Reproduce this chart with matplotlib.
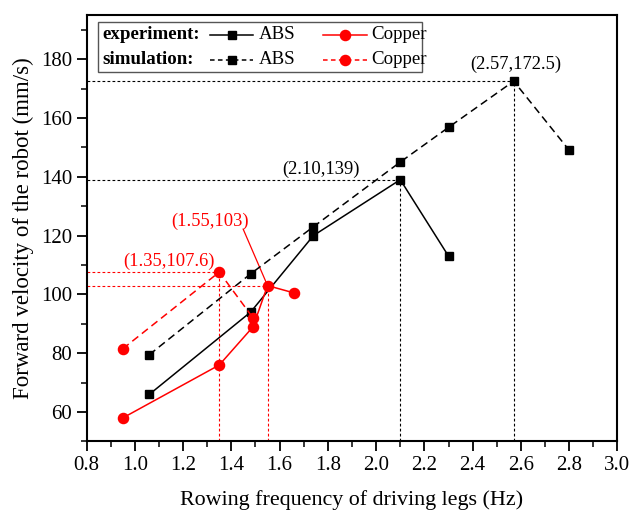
import matplotlib.pyplot as plt
from matplotlib.ticker import MultipleLocator
from matplotlib.lines import Line2D
from matplotlib.patches import Rectangle

plt.rcParams["font.family"] = ["Liberation Serif", "DejaVu Serif"]

# experiment / simulation, ABS legs
abs_exp_x = [1.06, 1.48, 1.74, 2.10, 2.30]
abs_exp_y = [66, 94, 120, 139, 113]
abs_sim_x = [1.06, 1.48, 1.74, 2.10, 2.30, 2.57, 2.80]
abs_sim_y = [79.5, 107, 123, 145, 156.8, 172.5, 149]

# experiment / simulation, copper legs
cu_exp_x = [0.95, 1.35, 1.49, 1.55, 1.66]
cu_exp_y = [58, 76, 89, 103, 100.5]
cu_sim_x = [0.95, 1.35, 1.49]
cu_sim_y = [81.5, 107.6, 92]

# highlighted maxima: (x, y, colour)
peaks = [(2.57, 172.5, "black"), (2.10, 139, "black"),
         (1.35, 107.6, "red"), (1.55, 103, "red")]

fig = plt.figure(figsize=(6.33, 5.13), dpi=100)
ax = fig.add_axes([0.1367, 0.1394, 0.8388, 0.8314])

xmin, xmax, ymin, ymax = 0.8, 3.0, 50, 195

# dotted guide lines to the axes
for px, py, c in peaks:
    ax.plot([xmin, px], [py, py], ls=(0, (2.5, 2)), lw=0.8, color=c, zorder=1)
    ax.plot([px, px], [ymin, py], ls=(0, (2.5, 2)), lw=0.8, color=c, zorder=1)

sq, dot = 6.2, 7.3
ax.plot(abs_exp_x, abs_exp_y, "-s", color="black", lw=1.1, ms=sq, zorder=3)
ax.plot(abs_sim_x, abs_sim_y, "--s", color="black", lw=1.1, ms=sq,
        dashes=(5, 3), zorder=3)
ax.plot(cu_exp_x, cu_exp_y, "-o", color="red", lw=1.1, ms=dot, zorder=4)
ax.plot(cu_sim_x, cu_sim_y, "--o", color="red", lw=1.1, ms=dot,
        dashes=(5, 3), zorder=4)

# annotations
fs = 13.3
ax.text(2.58, 178.3, "(2.57,172.5)", ha="center", va="center", fontsize=fs)
ax.text(1.77, 142.6, "(2.10,139)", ha="center", va="center", fontsize=fs)
ax.text(1.14, 111.1, "(1.35,107.6)", ha="center", va="center", fontsize=fs, color="red")
ax.text(1.31, 125, "(1.55,103)", ha="center", va="center", fontsize=fs, color="red")
ax.plot([1.449, 1.55], [122.2, 103], color="red", lw=0.9, zorder=2)

ax.set_xlim(xmin, xmax)
ax.set_ylim(ymin, ymax)
ax.xaxis.set_major_locator(MultipleLocator(0.2))
ax.xaxis.set_minor_locator(MultipleLocator(0.1))
ax.yaxis.set_minor_locator(MultipleLocator(10))
ax.set_yticks(range(60, 181, 20))
ax.tick_params(which="major", direction="out", length=7, width=1.3,
               labelsize=15, top=False, right=False)
ax.tick_params(which="minor", direction="out", length=4, width=1.1,
               top=False, right=False)
for sp in ax.spines.values():
    sp.set_linewidth(1.5)

ax.set_xlabel("Rowing frequency of driving legs (Hz)", fontsize=15.8, labelpad=11)
ax.set_ylabel("Forward velocity of the robot (mm/s)", fontsize=16.5, labelpad=5)

# legend box drawn by hand: row titles plus two sample columns
tr = ax.transAxes
ax.add_patch(Rectangle((0.0217, 0.8664), 0.6092, 0.1172, transform=tr,
                       facecolor="white", edgecolor="#555555", lw=1.0, zorder=5))
lfs = 13.6
rows = [(0.9531, "experiment:", "-"), (0.8953, "simulation:", "--")]
for ry, title, ls in rows:
    ax.text(0.0305, ry, title, transform=tr, fontsize=lfs, fontweight="bold",
            ha="left", va="center", zorder=6)
    for x0, x1, xm, xt, col, mk, ms, name in [
            (0.2326, 0.3136, 0.2734, 0.3236, "black", "s", sq, "ABS"),
            (0.4454, 0.5277, 0.4868, 0.5370, "red", "o", dot, "Copper")]:
        kw = dict(dashes=(3, 2.2)) if ls == "--" else {}
        ax.add_line(Line2D([x0, x1], [ry, ry], transform=tr, color=col, lw=1.1,
                           ls=ls, zorder=6, **kw))
        ax.add_line(Line2D([xm], [ry], transform=tr, color=col, marker=mk,
                           ms=ms, ls="none", zorder=7))
        ax.text(xt, ry, name, transform=tr, fontsize=lfs, ha="left",
                va="center", zorder=6)

fig.savefig("out.png", dpi=100)
